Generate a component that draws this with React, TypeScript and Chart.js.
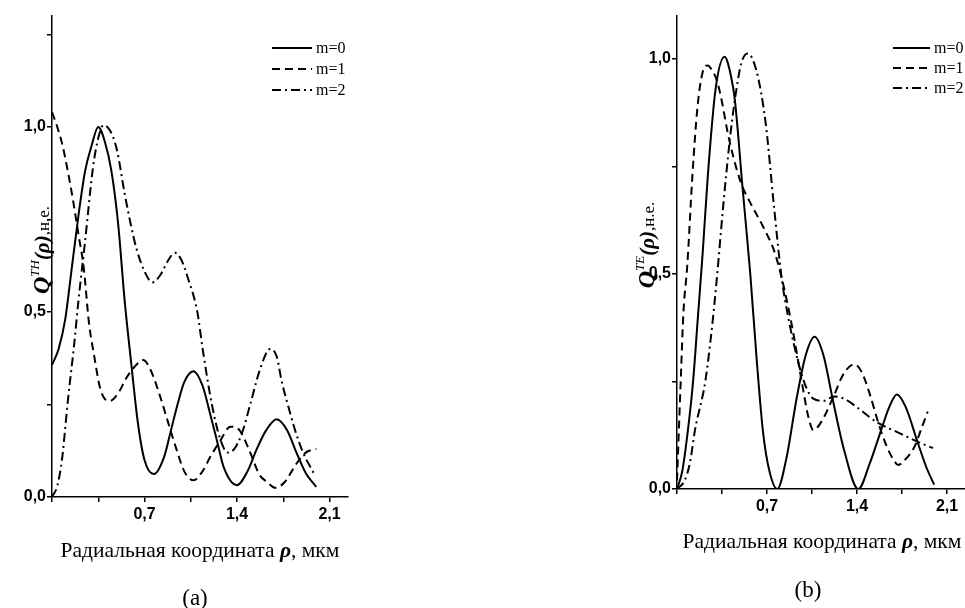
import React, { useEffect, useRef } from 'react';
import { Chart, registerables } from 'chart.js';

Chart.register(...registerables);

// ---------- data ----------
const seriesLabels = ['m=0', 'm=1', 'm=2'];

// panel (a): Q^TH
const aX0 = [0, 0.05, 0.1, 0.15, 0.2, 0.25, 0.3, 0.35, 0.4, 0.45, 0.5, 0.55, 0.6, 0.65, 0.7, 0.77, 0.85, 0.9, 0.95, 1.0, 1.07, 1.14, 1.2, 1.25, 1.3, 1.4, 1.48, 1.55, 1.62, 1.7, 1.78, 1.85, 1.92, 2.0];
const aY0 = [0.357, 0.4, 0.48, 0.62, 0.76, 0.88, 0.95, 1.0, 0.96, 0.88, 0.74, 0.53, 0.36, 0.2, 0.1, 0.062, 0.11, 0.18, 0.25, 0.31, 0.34, 0.3, 0.22, 0.15, 0.08, 0.032, 0.07, 0.13, 0.18, 0.21, 0.18, 0.12, 0.065, 0.027];

const aX1 = [0, 0.04, 0.08, 0.12, 0.16, 0.2, 0.24, 0.28, 0.32, 0.36, 0.4, 0.44, 0.5, 0.56, 0.62, 0.69, 0.75, 0.82, 0.88, 0.95, 1.0, 1.07, 1.14, 1.2, 1.27, 1.35, 1.42, 1.5, 1.57, 1.63, 1.69, 1.76, 1.85, 1.92, 2.0];
const aY1 = [1.04, 1.0, 0.95, 0.88, 0.8, 0.71, 0.62, 0.47, 0.38, 0.3, 0.265, 0.26, 0.28, 0.32, 0.35, 0.37, 0.34, 0.27, 0.2, 0.12, 0.07, 0.045, 0.07, 0.11, 0.15, 0.19, 0.18, 0.12, 0.06, 0.04, 0.025, 0.04, 0.09, 0.12, 0.13];

const aX2 = [0, 0.04, 0.075, 0.12, 0.17, 0.2, 0.25, 0.31, 0.35, 0.39, 0.44, 0.49, 0.55, 0.6, 0.64, 0.7, 0.76, 0.82, 0.88, 0.93, 0.98, 1.03, 1.1, 1.14, 1.21, 1.27, 1.33, 1.38, 1.44, 1.5, 1.57, 1.65, 1.7, 1.74, 1.8, 1.84, 1.9, 1.98];
const aY2 = [0, 0.03, 0.1, 0.26, 0.42, 0.53, 0.69, 0.89, 0.97, 1.005, 0.99, 0.94, 0.82, 0.73, 0.67, 0.61, 0.58, 0.6, 0.64, 0.66, 0.64, 0.59, 0.5, 0.4, 0.25, 0.16, 0.12, 0.13, 0.175, 0.25, 0.34, 0.4, 0.38, 0.31, 0.23, 0.18, 0.12, 0.065];

// panel (b): Q^TE
const bX0 = [0, 0.04, 0.085, 0.125, 0.165, 0.2, 0.24, 0.3, 0.37, 0.42, 0.45, 0.51, 0.57, 0.62, 0.67, 0.72, 0.78, 0.85, 0.93, 1.0, 1.07, 1.14, 1.21, 1.3, 1.41, 1.5, 1.58, 1.65, 1.71, 1.78, 1.87, 1.94, 2.0];
const bY0 = [0, 0.04, 0.137, 0.25, 0.41, 0.55, 0.73, 0.93, 1.005, 0.96, 0.905, 0.7, 0.5, 0.3, 0.13, 0.04, 0.0, 0.07, 0.21, 0.31, 0.354, 0.31, 0.21, 0.09, 0.0, 0.06, 0.13, 0.19, 0.22, 0.19, 0.11, 0.05, 0.01];

const bX1 = [0, 0.01, 0.03, 0.05, 0.08, 0.12, 0.16, 0.2, 0.24, 0.27, 0.31, 0.35, 0.39, 0.44, 0.5, 0.58, 0.67, 0.76, 0.815, 0.86, 0.9, 0.97, 1.02, 1.06, 1.13, 1.21, 1.3, 1.38, 1.44, 1.5, 1.57, 1.63, 1.68, 1.72, 1.78, 1.85, 1.9, 1.95];
const bY1 = [0.02, 0.1, 0.26, 0.41, 0.52, 0.73, 0.89, 0.97, 0.985, 0.975, 0.95, 0.9, 0.835, 0.77, 0.71, 0.66, 0.61, 0.55, 0.49, 0.43, 0.37, 0.25, 0.17, 0.137, 0.16, 0.21, 0.27, 0.29, 0.27, 0.22, 0.15, 0.1, 0.07, 0.056, 0.07, 0.1, 0.14, 0.18];

const bX2 = [0, 0.06, 0.1, 0.14, 0.22, 0.27, 0.31, 0.36, 0.41, 0.45, 0.5, 0.55, 0.62, 0.69, 0.75, 0.81, 0.84, 0.93, 1.0, 1.06, 1.14, 1.22, 1.3, 1.4, 1.55, 1.73, 1.87, 1.99];
const bY2 = [0, 0.02, 0.06, 0.137, 0.25, 0.37, 0.49, 0.66, 0.81, 0.905, 0.99, 1.013, 0.97, 0.85, 0.67, 0.5, 0.44, 0.31, 0.24, 0.21, 0.205, 0.215, 0.21, 0.19, 0.156, 0.13, 0.11, 0.095];

const xTitleText = ['Радиальная координата ', 'ρ', ', мкм'];
const yTitleA = ['Q', 'TH', '(ρ)', ',н.е.'];
const yTitleB = ['Q', 'TE', '(ρ)', ',н.е.'];

// ---------- styles ----------
const SERIF = '"Liberation Serif", "Times New Roman", serif';
const SANS = '"Liberation Sans", Arial, sans-serif';
const DASHES: number[][] = [[], [8, 5], [9, 4, 2, 4]];

type Piece = { text: string; font: string; dy: number };

function drawPieces(ctx: CanvasRenderingContext2D, pieces: Piece[], cx: number, by: number, rotate: boolean) {
  ctx.save();
  ctx.translate(cx, by);
  if (rotate) ctx.rotate(-Math.PI / 2);
  let total = 0;
  for (const p of pieces) {
    ctx.font = p.font;
    total += ctx.measureText(p.text).width;
  }
  let x = -total / 2;
  ctx.textAlign = 'left';
  ctx.textBaseline = 'alphabetic';
  for (const p of pieces) {
    ctx.font = p.font;
    ctx.fillText(p.text, x, p.dy);
    x += ctx.measureText(p.text).width;
  }
  ctx.restore();
}

function yPieces(t: string[]): Piece[] {
  return [
    { text: t[0], font: `bold italic 24px ${SERIF}`, dy: 0 },
    { text: t[1], font: `italic 13px ${SERIF}`, dy: -10 },
    { text: t[2], font: `bold italic 21px ${SERIF}`, dy: 0 },
    { text: t[3], font: `17px ${SERIF}`, dy: 0 },
  ];
}

function xPieces(): Piece[] {
  return [
    { text: xTitleText[0], font: `21.5px ${SERIF}`, dy: 0 },
    { text: xTitleText[1], font: `bold italic 21.5px ${SERIF}`, dy: 0 },
    { text: xTitleText[2], font: `21.5px ${SERIF}`, dy: 0 },
  ];
}

type PanelCfg = {
  xs: number[][];
  ys: number[][];
  yMax: number;
  yTitle: string[];
  panel: string;
  width: number;
  height: number;
  plotLeft: number;
  plotRight: number;
  plotTop: number;
  plotBottom: number;
  yTitleX: number;
  yTitleY: number;
  xTitleX: number;
  xTitleY: number;
  panelX: number;
  panelY: number;
  legX: number;
  legY: number;
  legW: number;
  legDy: number;
};

function isMultiple(v: number, step: number) {
  const r = v / step;
  return Math.abs(r - Math.round(r)) < 1e-6;
}

function fmt(v: number) {
  return v.toFixed(1).replace('.', ',');
}

function Panel({ cfg, left }: { cfg: PanelCfg; left: number }) {
  const ref = useRef<HTMLCanvasElement | null>(null);
  useEffect(() => {
    const canvas = ref.current;
    if (!canvas) return;
    const annot = {
      id: 'annot',
      afterDraw(chart: any) {
        const ctx: CanvasRenderingContext2D = chart.ctx;
        ctx.save();
        ctx.fillStyle = '#000';
        ctx.strokeStyle = '#000';
        drawPieces(ctx, yPieces(cfg.yTitle), cfg.yTitleX, cfg.yTitleY, true);
        drawPieces(ctx, xPieces(), cfg.xTitleX, cfg.xTitleY, false);
        ctx.font = `23px ${SERIF}`;
        ctx.textAlign = 'center';
        ctx.textBaseline = 'alphabetic';
        ctx.fillText(cfg.panel, cfg.panelX, cfg.panelY);
        chart.data.datasets.forEach((ds: any, i: number) => {
          const y = cfg.legY + i * cfg.legDy;
          ctx.beginPath();
          ctx.setLineDash(ds.borderDash || []);
          ctx.lineWidth = 2;
          ctx.moveTo(cfg.legX, y);
          ctx.lineTo(cfg.legX + cfg.legW, y);
          ctx.stroke();
          ctx.setLineDash([]);
          ctx.font = `16px ${SERIF}`;
          ctx.textAlign = 'left';
          ctx.textBaseline = 'middle';
          ctx.fillText(ds.label, cfg.legX + cfg.legW + 4, y + 1);
        });
        ctx.restore();
      },
    };
    const datasets = cfg.xs.map((xs, s) => ({
      label: seriesLabels[s],
      data: xs.map((x, i) => ({ x, y: cfg.ys[s][i] })),
      borderColor: '#000',
      borderWidth: 2,
      borderDash: DASHES[s],
      pointRadius: 0,
      fill: false,
      cubicInterpolationMode: 'monotone' as const,
    }));
    const tickFont = { family: SANS, size: 16, weight: 'bold' as const };
    const chart = new Chart(canvas, {
      type: 'line',
      data: { datasets },
      options: {
        animation: false,
        responsive: false,
        maintainAspectRatio: false,
        layout: {
          padding: { left: 0, top: cfg.plotTop, right: cfg.width - cfg.plotRight, bottom: 0 },
        },
        plugins: { legend: { display: false }, tooltip: { enabled: false }, title: { display: false } },
        scales: {
          x: {
            type: 'linear',
            min: 0,
            max: 2.24,
            afterFit: (s: any) => {
              s.height = cfg.height - cfg.plotBottom;
            },
            border: { display: true, color: '#000', width: 1.5 },
            grid: { display: true, drawOnChartArea: false, drawTicks: true, tickLength: 5, color: '#000', tickColor: '#000', lineWidth: 1.5 },
            ticks: {
              stepSize: 0.35,
              includeBounds: false,
              autoSkip: false,
              maxRotation: 0,
              padding: 3,
              color: '#000',
              font: tickFont,
              callback: (v: any) => {
                const n = Number(v);
                return n > 0 && isMultiple(n, 0.7) ? fmt(n) : '';
              },
            },
          },
          y: {
            type: 'linear',
            min: 0,
            max: cfg.yMax,
            afterFit: (s: any) => {
              s.width = cfg.plotLeft;
            },
            border: { display: true, color: '#000', width: 1.5 },
            grid: { display: true, drawOnChartArea: false, drawTicks: true, tickLength: 5, color: '#000', tickColor: '#000', lineWidth: 1.5 },
            ticks: {
              stepSize: 0.25,
              includeBounds: false,
              autoSkip: false,
              padding: 1,
              color: '#000',
              font: tickFont,
              callback: (v: any) => {
                const n = Number(v);
                return isMultiple(n, 0.5) ? fmt(n) : '';
              },
            },
          },
        },
      },
      plugins: [annot],
    } as any);
    return () => chart.destroy();
  }, [cfg]);
  return (
    <canvas
      ref={ref}
      width={cfg.width}
      height={cfg.height}
      style={{ position: 'absolute', left, top: 0, width: cfg.width, height: cfg.height }}
    />
  );
}

const cfgA: PanelCfg = {
  xs: [aX0, aX1, aX2],
  ys: [aY0, aY1, aY2],
  yMax: 1.3,
  yTitle: yTitleA,
  panel: '(a)',
  width: 480,
  height: 608,
  plotLeft: 52,
  plotRight: 348,
  plotTop: 16,
  plotBottom: 497,
  yTitleX: 49,
  yTitleY: 250,
  xTitleX: 200,
  xTitleY: 557,
  panelX: 195,
  panelY: 605,
  legX: 272,
  legY: 48,
  legW: 40,
  legDy: 21,
};

const cfgB: PanelCfg = {
  xs: [bX0, bX1, bX2],
  ys: [bY0, bY1, bY2],
  yMax: 1.1,
  yTitle: yTitleB,
  panel: '(b)',
  width: 460,
  height: 608,
  plotLeft: 117,
  plotRight: 405,
  plotTop: 16,
  plotBottom: 489,
  yTitleX: 94,
  yTitleY: 245,
  xTitleX: 262,
  xTitleY: 548,
  panelX: 248,
  panelY: 597,
  legX: 333,
  legY: 48,
  legW: 37,
  legDy: 20,
};

export default function App() {
  return (
    <div
      style={{
        position: 'fixed',
        left: 0,
        top: 0,
        width: 965,
        height: 608,
        overflow: 'hidden',
        background: '#fff',
      }}
    >
      <Panel cfg={cfgA} left={0} />
      <Panel cfg={cfgB} left={560} />
    </div>
  );
}
